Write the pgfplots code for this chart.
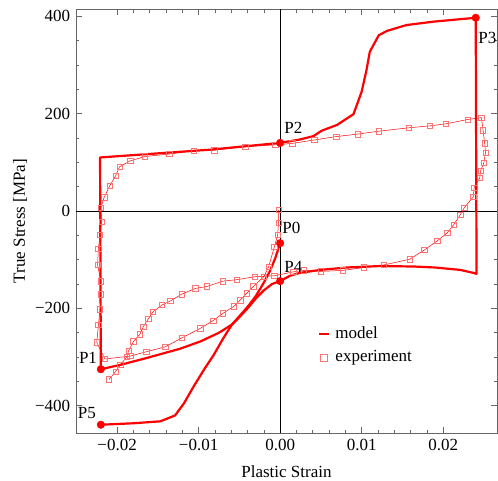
\documentclass[border=0pt]{standalone}
\usepackage{fontspec}
\setmainfont{Liberation Serif}
\usepackage{pgfplots}
\pgfplotsset{compat=1.18}
\definecolor{framegray}{gray}{0.4}
\definecolor{expred}{rgb}{1,0.45,0.45}
\begin{document}
\fontsize{17bp}{20bp}\selectfont
\begin{tikzpicture}
\begin{axis}[
    at={(0,0)}, anchor=south west,
    scale only axis, width=421bp, height=424bp,
    xmin=-0.02505, xmax=0.02661,
    ymin=-456, ymax=415,
    xtick={-0.02,-0.01,0,0.01,0.02},
    xticklabels={−0.02,−0.01,0.00,0.01,0.02},
    ytick={-400,-200,0,200,400},
    yticklabels={−400,−200,0,200,400},
    minor x tick num=4, minor y tick num=3,
    scaled x ticks=false,
    tick align=inside,
    major tick length=6bp, minor tick length=3.5bp,
    tick style={framegray, line width=0.6bp},
    axis line style={framegray, line width=0.8bp},
    xlabel={Plastic Strain},
    ylabel={True Stress [MPa]},
    xlabel style={at={(axis description cs:0.5,-0.1038)}, anchor=base},
    ylabel style={at={(axis description cs:-0.133,0.5)}, anchor=center},
    legend style={draw=none, fill=none, at={(axis cs:0.0043,-230)},
        anchor=north west, cells={anchor=west}, row sep=5bp},
    clip=true,
]
% axes through the origin
\draw[black, line width=0.6bp] (axis cs:0,-456) -- (axis cs:0,415);
\draw[black, line width=0.6bp] (axis cs:-0.02505,0) -- (axis cs:0.02661,0);

% model: closed loop P1 -> P2 -> P3 -> P4 -> P1
\addplot[red, line width=2.2bp, line join=round, forget plot] coordinates {
    (-0.0220,-325) (-0.0221,110) (-0.0086,126) (0,140)
    (0.00245,147) (0.0041,154) (0.0051,165) (0.0070,177) (0.0090,199)
    (0.0100,245) (0.0106,290) (0.0110,327) (0.0121,361) (0.0131,370)
    (0.0155,382) (0.0188,389) (0.0240,397)
    (0.0241,-129) (0.0237,-127) (0.0221,-121) (0.0190,-116) (0.0164,-114)
    (0.0123,-113) (0.0082,-116) (0.0049,-121) (0.00245,-127) (0.0012,-133)
    (0,-144)
    (-0.0010,-150) (-0.0020,-163) (-0.0030,-180) (-0.0040,-200)
    (-0.0050,-218) (-0.0059,-233) (-0.0075,-250) (-0.0098,-268)
    (-0.0123,-283) (-0.0164,-302) (-0.0196,-316) (-0.0220,-325)
};
% model: P0 -> P5
\addplot[red, line width=2.2bp, line join=round, forget plot] coordinates {
    (0,-66) (-0.0006,-97) (-0.0013,-125) (-0.0021,-150) (-0.0030,-175)
    (-0.0040,-197) (-0.0050,-216) (-0.0059,-233) (-0.0070,-262)
    (-0.0082,-297) (-0.0092,-322) (-0.0106,-360) (-0.0118,-395)
    (-0.0129,-420) (-0.0147,-432) (-0.0180,-436) (-0.0220,-439)
};

% experiment
\addplot[red, line width=0.5bp, mark=square, mark size=2.7bp,
    mark options={expred, line width=0.6bp}, forget plot] coordinates {
    (-0.0002,2) (-0.0002,-24) (-0.0003,-49) (-0.0007,-73) (-0.0014,-114)
    (-0.0020,-135) (-0.0033,-155) (-0.0041,-169) (-0.0049,-183)
    (-0.0057,-196) (-0.0070,-210) (-0.0082,-225) (-0.0098,-241)
    (-0.0121,-261) (-0.0141,-279) (-0.0164,-289) (-0.0184,-298)
    (-0.0215,-304)
    (-0.0225,-270) (-0.0223,-234) (-0.0221,-202) (-0.0220,-171)
    (-0.0220,-144) (-0.0224,-111) (-0.0223,-77) (-0.0221,-49)
    (-0.0219,-22) (-0.0220,7) (-0.0216,28) (-0.0209,52) (-0.0202,72)
    (-0.0197,91) (-0.0184,103) (-0.0166,112) (-0.0136,117) (-0.0106,124)
    (-0.0081,125) (-0.0043,132) (-0.0006,136) (0.0015,139) (0.0042,146)
    (0.0069,153) (0.0095,158) (0.0121,164) (0.0158,171) (0.0184,175)
    (0.0203,179) (0.0230,188) (0.0247,192)
    (0.0249,166) (0.0251,139) (0.0252,120) (0.0250,99) (0.0246,83)
    (0.0245,68) (0.0238,48) (0.0237,29) (0.0226,7) (0.0221,-8)
    (0.0213,-28) (0.0205,-45) (0.0193,-61) (0.0177,-80) (0.0159,-99)
    (0.0127,-111) (0.0103,-116) (0.0077,-122) (0.0050,-124) (0.0029,-122)
    (0.0016,-125) (-0.0007,-133) (-0.0031,-135) (-0.0053,-141)
    (-0.0070,-144) (-0.0090,-155) (-0.0104,-159) (-0.0121,-171)
    (-0.0135,-185) (-0.0145,-193) (-0.0156,-207) (-0.0162,-222)
    (-0.0168,-238) (-0.0172,-253) (-0.0180,-268) (-0.0186,-287)
    (-0.0188,-299) (-0.0196,-316) (-0.0202,-330) (-0.0210,-346)
};

% state points
\addplot[only marks, mark=*, red, mark size=3.8bp, forget plot] coordinates {
    (0,-66) (-0.0220,-325) (0,140) (0.0240,397) (0,-144) (-0.0220,-439)
};
\node[anchor=west, inner sep=0] at (axis cs:0.00025,-35) {P0};
\node[anchor=east, inner sep=0] at (axis cs:-0.02245,-302) {P1};
\node[anchor=west, inner sep=0] at (axis cs:0.0005,170) {P2};
\node[anchor=west, inner sep=0] at (axis cs:0.0243,355) {P3};
\node[anchor=west, inner sep=0] at (axis cs:0.0005,-115) {P4};
\node[anchor=east, inner sep=0] at (axis cs:-0.02258,-415) {P5};

\addlegendimage{legend image code/.code={\draw[red, line width=2.2bp] (0bp,0bp) -- (10bp,0bp); \path[draw=none] (0bp,0bp) -- (14bp,0bp);}}
\addlegendentry{model}
\addlegendimage{legend image code/.code={\draw[expred, line width=0.6bp] (0.5bp,-3.5bp) rectangle (7.5bp,3.5bp); \path[draw=none] (0bp,0bp) -- (14bp,0bp);}}
\addlegendentry{experiment}
\end{axis}
\pgfresetboundingbox
\path[use as bounding box] (-76bp,-48bp) rectangle (422bp,433bp);
\end{tikzpicture}
\end{document}
